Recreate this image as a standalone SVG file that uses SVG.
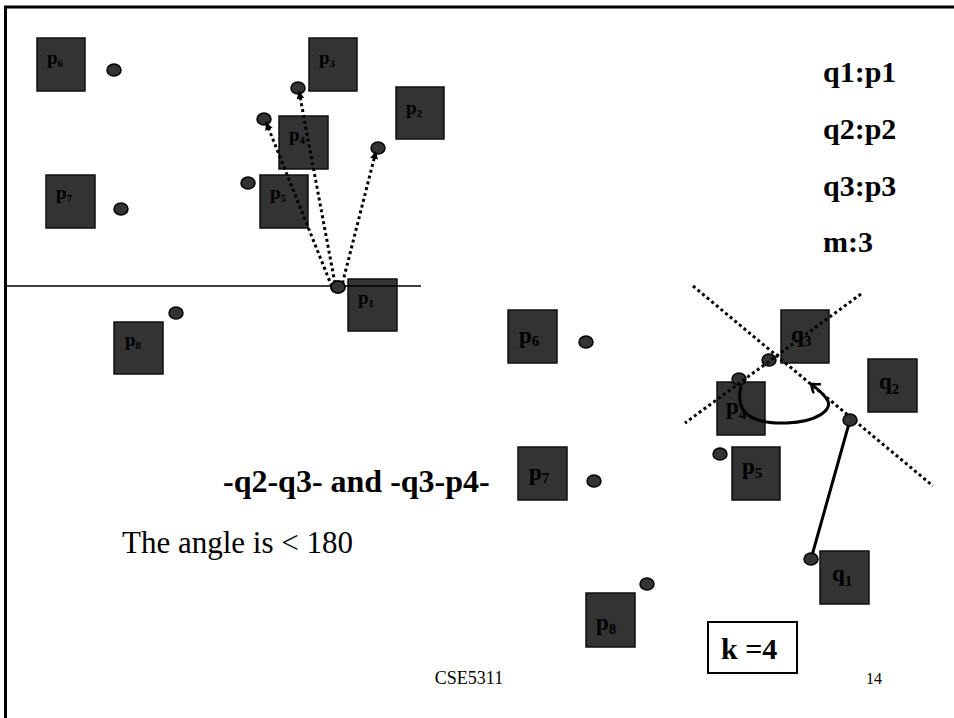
<svg xmlns="http://www.w3.org/2000/svg" width="954" height="718" viewBox="0 0 954 718">
<defs>
<style>
.box{fill:#333333;stroke:#111111;stroke-width:1.5}
.dot{fill:#333333;stroke:#000000;stroke-width:1.5}
.lbl{font-family:"Liberation Serif","Times New Roman",serif;font-weight:bold;fill:#000}
.sl{font-size:19px}
.sl .s{font-size:11px}
.ml{font-size:23px}
.ml .s{font-size:15px}
.dotted{fill:none;stroke:#000;stroke-width:3;stroke-dasharray:3 3}
.txt{font-family:"Liberation Serif","Times New Roman",serif;fill:#000}
</style>
<marker id="ah" markerWidth="10" markerHeight="10" refX="8" refY="4" orient="auto" markerUnits="userSpaceOnUse">
<path d="M0,0 L8,4 L0,8 z" fill="#000"/>
</marker>
<marker id="oh" markerWidth="14" markerHeight="14" refX="10" refY="6" orient="auto" markerUnits="userSpaceOnUse">
<path d="M2,0 L10,6 L2,12" fill="none" stroke="#000" stroke-width="2.5"/>
</marker>
</defs>
<rect width="954" height="718" fill="#ffffff"/>
<g id="frame" fill="none" stroke="#000" stroke-width="3">
<line x1="4" y1="7" x2="954" y2="7"/>
<line x1="5.5" y1="6" x2="5.5" y2="718"/>
</g>

<!-- left panel -->
<g id="L-p6"><rect class="box" x="37" y="38" width="48" height="53"/><text class="lbl sl" x="47" y="64">p<tspan class="s" dy="3">6</tspan></text><ellipse class="dot" cx="114" cy="70" rx="7" ry="6"/></g>
<g id="L-p3"><rect class="box" x="309" y="38" width="48" height="53"/><text class="lbl sl" x="319" y="64">p<tspan class="s" dy="3">3</tspan></text><ellipse class="dot" cx="298" cy="88" rx="7" ry="6"/></g>
<g id="L-p2"><rect class="box" x="396" y="87" width="48" height="52"/><text class="lbl sl" x="406" y="114">p<tspan class="s" dy="3">2</tspan></text><ellipse class="dot" cx="378" cy="148" rx="7" ry="6"/></g>
<g id="L-p4"><rect class="box" x="279" y="116" width="49" height="53"/><text class="lbl sl" x="289" y="141">p<tspan class="s" dy="3">4</tspan></text><ellipse class="dot" cx="264" cy="119" rx="7" ry="6"/></g>
<g id="L-p7"><rect class="box" x="46" y="175" width="49" height="53"/><text class="lbl sl" x="56" y="199">p<tspan class="s" dy="3">7</tspan></text><ellipse class="dot" cx="121" cy="209" rx="7" ry="6"/></g>
<g id="L-p5"><rect class="box" x="260" y="175" width="48" height="53"/><text class="lbl sl" x="270" y="199">p<tspan class="s" dy="3">5</tspan></text><ellipse class="dot" cx="248" cy="183" rx="7" ry="6"/></g>
<g id="L-p1"><rect class="box" x="348" y="279" width="49" height="52"/><text class="lbl sl" x="358" y="304">p<tspan class="s" dy="3">1</tspan></text><ellipse class="dot" cx="338" cy="287" rx="7" ry="6"/></g>
<g id="L-p8"><rect class="box" x="114" y="322" width="49" height="52"/><text class="lbl sl" x="125" y="346">p<tspan class="s" dy="3">8</tspan></text><ellipse class="dot" cx="176" cy="313" rx="7" ry="6"/></g>

<!-- middle panel -->
<g id="M-p6"><rect class="box" x="508" y="310" width="49" height="53"/><text class="lbl ml" x="519" y="343">p<tspan class="s" dy="3">6</tspan></text><ellipse class="dot" cx="586" cy="342" rx="7" ry="6"/></g>
<g id="M-p7"><rect class="box" x="518" y="447" width="49" height="53"/><text class="lbl ml" x="529" y="480">p<tspan class="s" dy="3">7</tspan></text><ellipse class="dot" cx="594" cy="481" rx="7" ry="6"/></g>
<g id="M-p8"><rect class="box" x="586" y="593" width="49" height="54"/><text class="lbl ml" x="596" y="630">p<tspan class="s" dy="4">8</tspan></text><ellipse class="dot" cx="647" cy="584" rx="7" ry="6"/></g>

<!-- right panel -->
<g id="R-q3"><rect class="box" x="781" y="310" width="48" height="53"/><text class="lbl ml" x="791" y="342">q<tspan class="s" dy="4">3</tspan></text><ellipse class="dot" cx="769" cy="360" rx="7" ry="6"/></g>
<g id="R-q2"><rect class="box" x="868" y="359" width="49" height="53"/><text class="lbl ml" x="879" y="389">q<tspan class="s" dy="5">2</tspan></text></g>
<g id="R-p4"><rect class="box" x="717" y="382" width="48" height="53"/><text class="lbl ml" x="726" y="414">p<tspan class="s" dy="5">4</tspan></text><ellipse class="dot" cx="739" cy="379" rx="7" ry="6"/></g>
<g id="R-p5"><rect class="box" x="732" y="447" width="48" height="53"/><text class="lbl ml" x="742" y="474">p<tspan class="s" dy="4">5</tspan></text><ellipse class="dot" cx="720" cy="454" rx="7" ry="6"/></g>
<g id="R-q1"><rect class="box" x="820" y="551" width="49" height="53"/><text class="lbl ml" x="832" y="581">q<tspan class="s" dy="5">1</tspan></text></g>

<g id="connectors">
<line x1="5" y1="286" x2="421" y2="286" stroke="#000" stroke-width="1.5"/>
<line class="dotted" x1="334" y1="292" x2="266" y2="122" marker-end="url(#ah)"/>
<line class="dotted" x1="336" y1="289" x2="299" y2="91" marker-end="url(#ah)"/>
<line class="dotted" x1="341" y1="289" x2="376" y2="151" marker-end="url(#ah)"/>
<line class="dotted" stroke-width="2.5" x1="693" y1="286" x2="933" y2="486"/>
<line class="dotted" stroke-width="2.5" x1="861" y1="294" x2="685" y2="423"/>
<line x1="811" y1="559" x2="850" y2="420" stroke="#000" stroke-width="3"/>
<path d="M741,386 C733,418 760,424 787,423 C815,422 836,410 826,398 C821,391 816,388 811,384" fill="none" stroke="#000" stroke-width="3" marker-end="url(#oh)"/>
<ellipse class="dot" cx="338" cy="287" rx="7" ry="6"/>
<ellipse class="dot" cx="850" cy="420" rx="7" ry="6"/>
<ellipse class="dot" cx="811" cy="559" rx="7" ry="6"/>
</g>

<g id="legend" class="lbl" font-size="30">
<text x="823" y="82">q1:p1</text>
<text x="823" y="139">q2:p2</text>
<text x="823" y="196">q3:p3</text>
<text x="823" y="252">m:3</text>
</g>

<g id="captions">
<text class="lbl" font-size="32" x="223" y="492">-q2-q3- and -q3-p4-</text>
<text class="txt" font-size="31" x="122" y="553">The angle is &lt; 180</text>
</g>

<g id="kbox">
<rect x="708" y="622" width="89" height="51" fill="#fff" stroke="#000" stroke-width="2"/>
<text class="lbl" font-size="30" x="721" y="659">k =4</text>
</g>

<g id="footer" class="txt">
<text x="469" y="684" text-anchor="middle" font-size="18">CSE5311</text>
<text x="866" y="684" font-size="16">14</text>
</g>
</svg>
